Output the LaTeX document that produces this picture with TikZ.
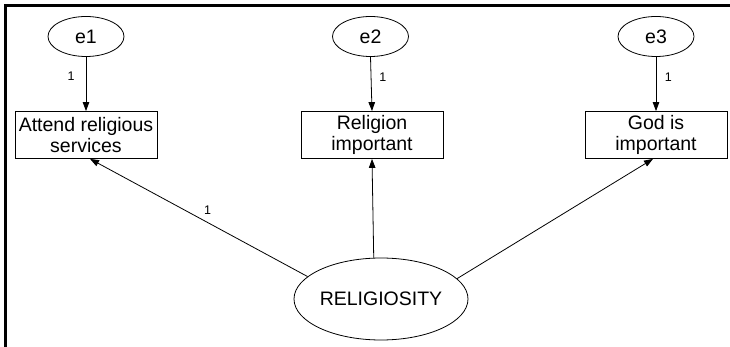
\documentclass[tikz,border=0pt]{standalone}
\usepackage{fontspec}
\setmainfont{Liberation Sans}
\usetikzlibrary{shapes.geometric,arrows.meta}
\begin{document}
\begin{tikzpicture}[x=1pt,y=-1pt,
  every node/.style={font=\fontsize{19.5}{21}\selectfont},
  errnode/.style={draw,ellipse,line width=0.8pt,inner sep=0pt,minimum width=76pt,minimum height=40pt},
  latent/.style={draw,ellipse,line width=0.8pt,inner sep=0pt,minimum width=174pt,minimum height=82pt},
  obsbox/.style={draw,rectangle,line width=0.8pt,inner sep=0pt,minimum width=142pt,minimum height=47pt,align=center},
  arr/.style={-{Triangle[length=9pt,width=6.5pt]},line width=0.8pt},
  lab/.style={font=\fontsize{12.5}{12.5}\selectfont,inner sep=0pt}]
\useasboundingbox (0,0) rectangle (730,347);
\draw[line width=2.6pt] (5.3,347) -- (5.3,5.3) -- (730,5.3);
\node[errnode] (e1) at (86,36.5) {e1};
\node[errnode] (e2) at (370.5,36.5) {e2};
\node[errnode] (e3) at (656,36.5) {e3};
\node[obsbox] (b1) at (86,135) {Attend religious\\services};
\node[obsbox] (b2) at (372,135) {Religion\\important};
\node[obsbox] (b3) at (656,135) {God is\\important};
\node[latent] (rel) at (381,299) {RELIGIOSITY};
\draw[arr] (e1.south) -- node[lab,pos=0.36,left=11pt] {1} (b1.north);
\draw[arr] (e2.south) -- node[lab,pos=0.38,right=8pt] {1} (b2.north);
\draw[arr] (e3.south) -- node[lab,pos=0.38,right=8.5pt] {1} (b3.north);
\draw[arr] (rel.163) -- node[lab,pos=0.46,above=8pt] {1} ([xshift=4pt]b1.south);
\draw[arr] (rel.100) -- (b2.south);
\draw[arr] (rel.15) -- ([xshift=-3pt]b3.south);
\end{tikzpicture}
\end{document}
